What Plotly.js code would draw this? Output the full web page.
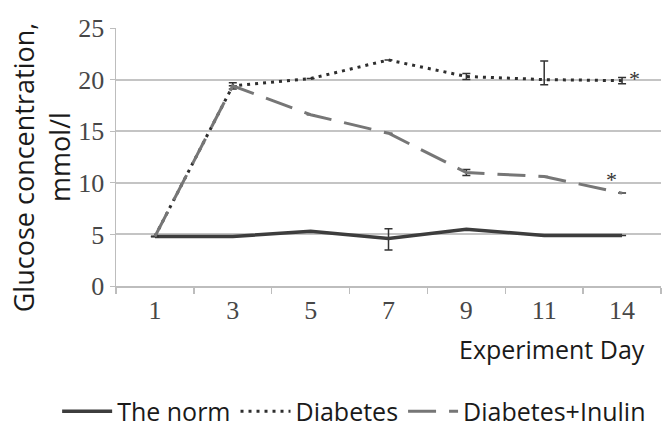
<!DOCTYPE html>
<html>
<head>
<meta charset="utf-8">
<script src="https://cdn.plot.ly/plotly-3.0.1.min.js"></script>
<style>html,body{margin:0;padding:0;background:#fff;}#chart{width:663px;height:432px;}</style>
</head>
<body>
<div id="chart"></div>
<script>
var days = ["1", "3", "5", "7", "9", "11", "14"];
var normValues = [4.8, 4.8, 5.3, 4.6, 5.5, 4.9, 4.9];
var normErrPlus = [0, 0, 0, 0.95, 0, 0, 0];
var normErrMinus = [0, 0, 0, 1.1, 0, 0, 0];
var diabetesValues = [4.8, 19.4, 20.1, 21.9, 20.3, 20.0, 19.9];
var diabetesErrPlus = [0, 0.3, 0, 0, 0.3, 1.8, 0.3];
var diabetesErrMinus = [0, 0.3, 0, 0, 0.3, 0.5, 0.3];
var inulinValues = [4.8, 19.4, 16.6, 14.8, 11.0, 10.6, 9.0];
var inulinErrPlus = [0, 0, 0, 0, 0.3, 0, 0];
var inulinErrMinus = [0, 0, 0, 0, 0.3, 0, 0];
var seriesNames = ["The norm", "Diabetes", "Diabetes+Inulin"];
var yTicks = [0, 5, 10, 15, 20, 25];
var markIndex = 6;
var diabetesStarY = 20.1;
var inulinStarY = 10.3;

var errStyle = {color: "#333333", thickness: 1.5, width: 4};

var traces = [
  {
    x: days, y: normValues, name: seriesNames[0], type: "scatter", mode: "lines",
    line: {color: "#3d3d3d", width: 3.5},
    error_y: Object.assign({type: "data", symmetric: false, array: normErrPlus, arrayminus: normErrMinus}, errStyle)
  },
  {
    x: days, y: diabetesValues, name: seriesNames[1], type: "scatter", mode: "lines",
    line: {color: "#2e2e2e", width: 3, dash: "3px,5px"},
    error_y: Object.assign({type: "data", symmetric: false, array: diabetesErrPlus, arrayminus: diabetesErrMinus}, errStyle)
  },
  {
    x: days, y: inulinValues, name: seriesNames[2], type: "scatter", mode: "lines",
    line: {color: "#767676", width: 3, dash: "28px,13px"},
    error_y: Object.assign({type: "data", symmetric: false, array: inulinErrPlus, arrayminus: inulinErrMinus}, errStyle)
  }
];

var layout = {
  width: 663, height: 432,
  margin: {l: 116, r: 2, t: 28, b: 146, autoexpand: false},
  paper_bgcolor: "#ffffff", plot_bgcolor: "#ffffff",
  showlegend: true,
  legend: {
    orientation: "h", x: -0.108, xanchor: "left", y: -0.397, yanchor: "top",
    font: {family: "Open Sans, sans-serif", size: 25, color: "#1a1a1a"},
    traceorder: "normal", itemwidth: 50, tracegroupgap: 0
  },
  xaxis: {
    type: "category", categoryorder: "array", categoryarray: days,
    range: [-0.5, 6.5],
    showline: true, linecolor: "#bdbdbd", linewidth: 2,
    ticks: "outside", tickson: "boundaries", ticklen: 6, tickcolor: "#bdbdbd", tickwidth: 1.5,
    tickfont: {family: "Liberation Serif, Times New Roman, serif", size: 26, color: "#474747"},
    showgrid: false, zeroline: false, fixedrange: true
  },
  yaxis: {
    range: [0, 25], tickvals: yTicks, ticktext: yTicks.map(String),
    showline: true, linecolor: "#bdbdbd", linewidth: 1.5,
    ticks: "outside", ticklen: 5, tickcolor: "#bdbdbd",
    tickfont: {family: "Liberation Serif, Times New Roman, serif", size: 26, color: "#474747"},
    showgrid: true, gridcolor: "#c4c4c4", gridwidth: 2, zeroline: false, fixedrange: true,
    title: {text: "Glucose concentration,\u00a0\u00a0\u00a0<br>mmol/l\u00a0\u00a0\u00a0\u00a0\u00a0\u00a0", font: {family: "Open Sans, sans-serif", size: 27, color: "#1a1a1a"}, standoff: 0}
  },
  annotations: [
    {text: "Experiment Day", xref: "paper", yref: "paper", x: 0.975, y: -0.17, xanchor: "right", yanchor: "top", showarrow: false,
     font: {family: "Open Sans, sans-serif", size: 25, color: "#1a1a1a"}},
    {text: "*", xref: "x", yref: "y", x: markIndex, y: diabetesStarY, xshift: 12, yanchor: "middle", showarrow: false,
     font: {family: "Liberation Serif, serif", size: 22, color: "#333333"}},
    {text: "*", xref: "x", yref: "y", x: markIndex, y: inulinStarY, xshift: -11, yanchor: "middle", showarrow: false,
     font: {family: "Liberation Serif, serif", size: 22, color: "#333333"}}
  ]
};

Plotly.newPlot("chart", traces, layout, {displayModeBar: false, staticPlot: true});
</script>
</body>
</html>
